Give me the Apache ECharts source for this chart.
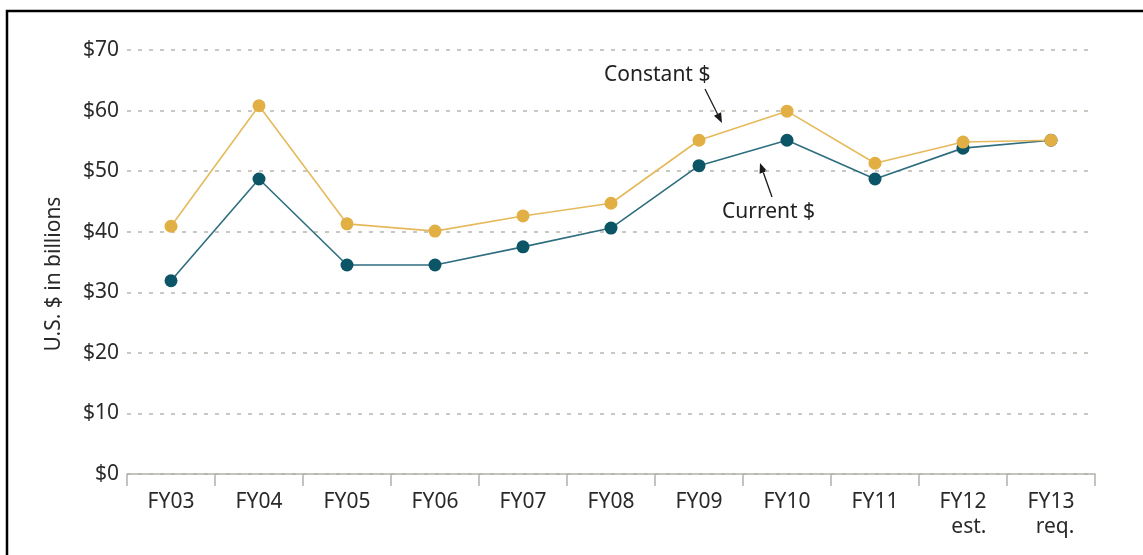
<!DOCTYPE html>
<html>
<head>
<meta charset="utf-8">
<title>Constant vs Current $</title>
<script src="https://cdn.jsdelivr.net/npm/echarts@6/dist/echarts.min.js"></script>
<style>
    html, body { margin: 0; padding: 0; background: #fff; }
    #main { width: 1143px; height: 555px; }
</style>
</head>
<body>
<div id="main"></div>
<script>
// 数据
var categories = ['FY03', 'FY04', 'FY05', 'FY06', 'FY07', 'FY08', 'FY09', 'FY10', 'FY11', 'FY12\nest.', 'FY13\nreq.'];
var constantVals = [40.9, 60.8, 41.3, 40.1, 42.6, 44.7, 55.1, 59.9, 51.3, 54.8, 55.1];
var currentVals = [31.9, 48.7, 34.5, 34.5, 37.5, 40.6, 50.9, 55.1, 48.7, 53.8, 55.1];
var yTicks = [0, 10, 20, 30, 40, 50, 60, 70];

var font = '"Noto Sans", "Open Sans", sans-serif';
var fs = 21;
var gold = '#E2AF45', goldLine = '#E6BA5C';
var teal = '#0C5566', tealLine = '#2E6E7F';

var chart = echarts.init(document.getElementById('main'));

// 箭头
function arrow(x1, y1, x2, y2) {
    var ang = Math.atan2(y2 - y1, x2 - x1), len = 10, w = 4;
    var bx = x2 - len * Math.cos(ang), by = y2 - len * Math.sin(ang);
    var px = -Math.sin(ang) * w, py = Math.cos(ang) * w;
    return [
        { type: 'line', silent: true, shape: { x1: x1, y1: y1, x2: bx, y2: by }, style: { stroke: '#1a1a1a', lineWidth: 1.3 } },
        { type: 'polygon', silent: true, shape: { points: [[x2, y2], [bx + px, by + py], [bx - px, by - py]] }, style: { fill: '#1a1a1a' } }
    ];
}

var graphics = [
    // frame
    { type: 'rect', silent: true, shape: { x: 7, y: 11, width: 1200, height: 600 }, style: { fill: 'none', stroke: '#000', lineWidth: 2.5 } },
    // y axis title
    { type: 'text', silent: true, x: 54, y: 274, rotation: Math.PI / 2, style: { text: 'U.S. $ in billions', font: fs + 'px ' + font, fill: '#2a2a2a', align: 'center', verticalAlign: 'middle' } },
    { type: 'text', silent: true, x: 604, y: 75, style: { text: 'Constant $', font: fs + 'px ' + font, fill: '#222', verticalAlign: 'middle' } },
    { type: 'text', silent: true, x: 722, y: 212, style: { text: 'Current $', font: fs + 'px ' + font, fill: '#222', verticalAlign: 'middle' } }
].concat(arrow(705, 89, 722, 123)).concat(arrow(772, 197, 760, 163));

var option = {
    animation: false,
    grid: { left: 127, right: 48, top: 50, bottom: 81, outerBoundsMode: 'none' },
    xAxis: {
        type: 'category',
        data: categories,
        boundaryGap: true,
        axisLine: { lineStyle: { color: '#b3b3ab', width: 1.5 } },
        axisTick: { show: true, length: 12, lineStyle: { color: '#b3b3ab', width: 1.5 } },
        axisLabel: {
            interval: 0, margin: 16, color: '#2a2a2a', fontSize: fs, fontFamily: font, lineHeight: 25,
            formatter: function (v) {
                var p = v.split('\n');
                return p.length > 1 ? '{a|' + p[0] + '}\n{b|' + p[1] + '}' : '{a|' + v + '}';
            },
            rich: {
                a: { fontSize: fs, fontFamily: font, color: '#2a2a2a', lineHeight: 25 },
                b: { fontSize: fs, fontFamily: font, color: '#2a2a2a', lineHeight: 25, align: 'right' }
            }
        }
    },
    yAxis: {
        type: 'value',
        min: yTicks[0],
        max: yTicks[yTicks.length - 1],
        interval: 10,
        axisLine: { show: false },
        axisTick: { show: false },
        axisLabel: { margin: 8, fontSize: fs, fontFamily: font, color: '#2a2a2a', formatter: '${value}' },
        splitLine: { lineStyle: { color: '#b8b8b0', width: 1.5, type: [4, 7] } }
    },
    series: [{
        name: 'Current $',
        type: 'line',
        data: currentVals,
        symbol: 'circle',
        symbolSize: 13,
        lineStyle: { color: tealLine, width: 1.6 },
        itemStyle: { color: teal }
    }, {
        name: 'Constant $',
        type: 'line',
        data: constantVals,
        symbol: 'circle',
        symbolSize: 13,
        lineStyle: { color: goldLine, width: 1.6 },
        itemStyle: { color: gold }
    }],
    graphic: graphics
};

chart.setOption(option);
</script>
</body>
</html>
